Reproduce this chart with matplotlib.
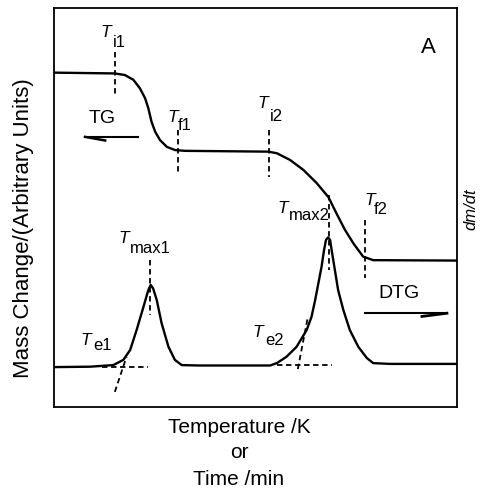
import matplotlib
matplotlib.use("Agg")
import matplotlib.pyplot as plt

plt.rcParams['font.family'] = ['Liberation Sans', 'DejaVu Sans']

# ---- data (arbitrary units) ----
tg_x = [0, 15.1, 17.6, 19.7, 21.3, 22.6, 23.4, 24.2, 25.1, 26.3, 28.0, 30.0, 32.5,
        53.2, 55.3, 58.6, 61.9, 65.2, 68.1, 70.1, 72.2, 74.3, 76.7, 79.2, 100]
tg_y = [83.8, 83.6, 83.2, 82.0, 79.9, 77.4, 74.9, 71.5, 69.0, 66.9, 65.2, 64.4, 64.2,
        64.0, 63.6, 61.9, 59.4, 56.1, 52.6, 48.5, 44.4, 41.0, 37.7, 36.8, 36.7]

dtg_x = [0, 8.9, 14.7, 17.2, 18.9, 20.5, 22.2, 23.4, 24.0, 24.6, 25.5, 26.7, 28.4,
         30.0, 31.7, 36.2, 53.6, 55.3, 57.7, 60.2, 62.7, 63.9, 64.8, 65.6, 66.4,
         67.0, 67.5, 68.0, 68.5, 68.9, 69.7, 70.5, 71.8, 73.4, 75.5, 77.6, 79.2, 83.4, 100]
dtg_y = [10.0, 10.1, 10.5, 11.8, 14.3, 19.3, 25.1, 29.3, 30.6, 29.7, 26.8, 21.0, 15.1,
         11.8, 10.5, 10.4, 10.4, 11.0, 12.6, 15.1, 19.3, 22.6, 26.8, 31.0, 35.2,
         39.3, 41.9, 42.5, 41.9, 39.3, 34.3, 29.3, 24.3, 19.3, 15.1, 12.3, 11.0, 10.8, 10.8]

# characteristic temperatures: name, x, dashed marker y-range
marker_names = ['i1', 'f1', 'i2', 'f2', 'max1', 'max2']
marker_x = [15.1, 30.8, 53.3, 77.2, 23.8, 68.2]
marker_ytop = [89.0, 69.4, 69.4, 46.9, 36.8, 53.1]
marker_ybot = [78.0, 58.1, 57.6, 32.3, 23.1, 34.3]

# extrapolated onset constructions (baseline and tangent)
onset_base_x = [[12.0, 23.3], [55.3, 69.0]]
onset_base_y = [[10.1, 10.1], [10.5, 10.5]]
onset_tan_x = [[15.1, 18.0], [60.5, 63.0]]
onset_tan_y = [[3.8, 12.6], [9.5, 22.6]]

W, H = 484, 490
fig = plt.figure(figsize=(W / 100, H / 100), dpi=100)
ax = fig.add_axes([54 / W, 1 - 407 / H, 403 / W, 399 / H])
ax.set_xlim(0, 100)
ax.set_ylim(0, 100)
ax.set_xticks([])
ax.set_yticks([])
for s in ax.spines.values():
    s.set_linewidth(1.3)
    s.set_color('black')

ax.plot(tg_x, tg_y, color='black', lw=1.7, solid_joinstyle='round')
ax.plot(dtg_x, dtg_y, color='black', lw=1.7, solid_joinstyle='round')

dash = dict(color='black', lw=1.3, dashes=[3, 2])
for x, y0, y1 in zip(marker_x, marker_ytop, marker_ybot):
    ax.plot([x, x], [y0, y1], **dash)
for bx, by, tx, ty in zip(onset_base_x, onset_base_y, onset_tan_x, onset_tan_y):
    ax.plot(bx, by, **dash)
    ax.plot(tx, ty, **dash)

# half-headed arrows
ax.plot([7.7, 20.8], [67.7, 67.7], color='black', lw=1.5)
ax.plot([7.7, 12.7], [67.7, 66.8], color='black', lw=1.8)
ax.plot([77.2, 97.5], [23.5, 23.5], color='black', lw=1.5)
ax.plot([97.5, 91.3], [23.5, 22.7], color='black', lw=2.0)


def ptext(x, y, s, **kw):
    fig.text(x / W, 1 - y / H, s, **kw)


# T labels: (T left, T baseline, sub left, sub baseline, sub)
labels = [
    (100, 37, 113, 47, 'i1'),
    (167, 122, 178, 130, 'f1'),
    (257, 108, 270, 121, 'i2'),
    (277, 213, 289, 220, 'max2'),
    (364, 205, 374, 214, 'f2'),
    (118, 243, 130, 253, 'max1'),
    (80, 345, 93, 350, 'e1'),
    (252, 337, 265, 345, 'e2'),
]
for tx, ty, sx, sy, sub in labels:
    ptext(tx, ty, 'T', fontsize=12.5, style='italic', ha='left', va='baseline')
    ptext(sx, sy, sub, fontsize=12, ha='left', va='baseline')

ptext(89, 123, 'TG', fontsize=14, ha='left', va='baseline')
ptext(378, 298, 'DTG', fontsize=14, ha='left', va='baseline')
ptext(421, 53, 'A', fontsize=16, ha='left', va='baseline')

ptext(239, 433, 'Temperature /K', fontsize=15, ha='center', va='baseline')
ptext(239, 458, 'or', fontsize=15, ha='center', va='baseline')
ptext(239, 485, 'Time /min', fontsize=15, ha='center', va='baseline')

ptext(24, 228, 'Mass Change/(Arbitrary Units)', fontsize=16, rotation=90,
      ha='center', va='center')
ptext(463, 209, 'dm/dt', fontsize=12, style='italic', rotation=90,
      ha='left', va='center')

fig.savefig('out.png', dpi=100)
